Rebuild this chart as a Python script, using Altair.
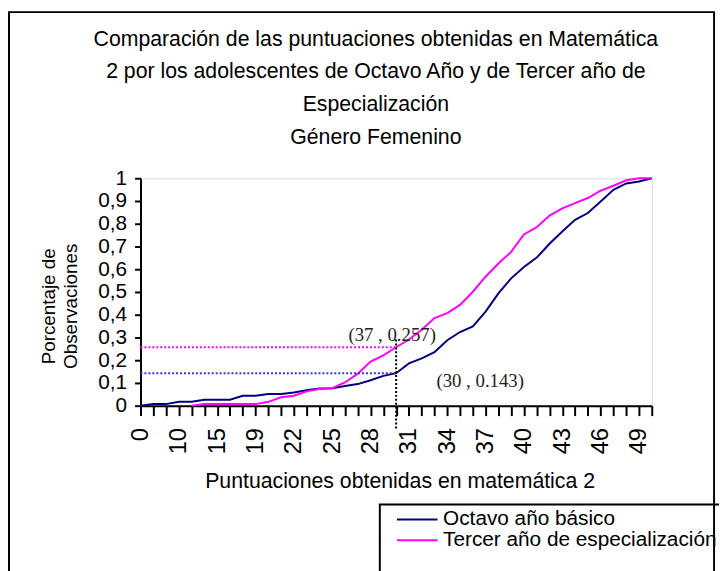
import altair as alt
import pandas as pd

categories = ["0", "5", "8", "10", "12", "14", "15", "17", "18", "19", "20",
              "21", "22", "23", "24", "25", "26", "27", "28", "29", "30",
              "31", "32", "33", "34", "35", "36", "37", "38", "39", "40",
              "41", "42", "43", "44", "45", "46", "47", "48", "49", "50"]
label_values = ["0", "10", "15", "19", "22", "25", "28", "31", "34", "37",
                "40", "43", "46", "49"]
y_ticks = [0, 0.1, 0.2, 0.3, 0.4, 0.5, 0.6, 0.7, 0.8, 0.9, 1.0]

octavo = [0.0, 0.007, 0.007, 0.017, 0.017, 0.026, 0.026, 0.026, 0.044, 0.044,
          0.051, 0.051, 0.058, 0.068, 0.076, 0.077, 0.087, 0.095, 0.112, 0.131,
          0.143, 0.186, 0.208, 0.235, 0.288, 0.324, 0.349, 0.414, 0.494, 0.560,
          0.610, 0.651, 0.712, 0.766, 0.817, 0.847, 0.898, 0.949, 0.977, 0.986,
          1.0]
tercer = [None, None, None, None, 0.0, 0.007, 0.007, 0.007, 0.007, 0.007,
          0.017, 0.037, 0.044, 0.063, 0.073, 0.077, 0.102, 0.141, 0.194, 0.221,
          0.257, 0.291, 0.334, 0.385, 0.407, 0.443, 0.501, 0.567, 0.625, 0.676,
          0.753, 0.785, 0.836, 0.868, 0.891, 0.913, 0.945, 0.967, 0.991, 1.0,
          1.0]

series_names = ["Octavo año básico", "Tercer año de especialización"]
series_colors = ["#000080", "#FF00FF"]

title_lines = ["Comparación de las puntuaciones obtenidas en Matemática",
               "2 por los adolescentes de Octavo Año y de Tercer año de",
               "Especialización",
               "Género Femenino"]
x_title = "Puntuaciones obtenidas en matemática 2"
y_title = ["Porcentaje de", "Observaciones"]

ref_x = "30"
ref_pink = 0.257
ref_blue = 0.143
annot_texts = ["(37 , 0.257)", "(30 , 0.143)"]
annot_y = [0.309, 0.1066]

SANS = "Liberation Sans"
SERIF = "Liberation Serif"
W, H = 517, 230

rows = []
for c, a, b in zip(categories, octavo, tercer):
    rows.append({"x": c, "y": a, "serie": series_names[0]})
    rows.append({"x": c, "y": b, "serie": series_names[1]})
df = pd.DataFrame(rows)

xscale = alt.Scale(type="point", domain=categories, padding=0)
yscale = alt.Scale(domain=[0, 1], nice=False)
label_js = "[" + ",".join("'" + v + "'" for v in label_values) + "]"

x_axis = alt.Axis(
    title=x_title, titleFont=SANS, titleFontSize=21.5, titleFontWeight="normal",
    titleColor="black", titleX=262, titleY=83, titleAlign="center",
    titleBaseline="alphabetic",
    labelAngle=270, labelFont=SANS, labelFontSize=24, labelColor="black",
    labelExpr="indexof(" + label_js + ", datum.value) >= 0 ? datum.value : ''",
    labelOverlap=False, labelPadding=12,
    tickSize=10, tickWidth=2, tickColor="black",
    domainColor="black", domainWidth=2, grid=False,
)
y_axis = alt.Axis(
    values=y_ticks,
    labelExpr="replace(format(datum.value, '.1~f'), '.', ',')",
    labelFont=SANS, labelFontSize=21, labelColor="black", labelPadding=8,
    labelOverlap=False, labelSeparation=0,
    tickSize=6, tickWidth=2, tickColor="black",
    domainColor="black", domainWidth=2, grid=False,
    title=y_title, titleFont=SANS, titleFontSize=19, titleFontWeight="normal",
    titleColor="black", titleAngle=270, titleLineHeight=22,
    titleX=-93, titleY=129, titleAlign="center", titleBaseline="middle",
)


def X(field):
    return alt.X(field, type="ordinal", scale=xscale, axis=x_axis,
                 sort=categories)


def Y(field):
    return alt.Y(field, type="quantitative", scale=yscale, axis=y_axis)


lines = alt.Chart(df).mark_line(strokeWidth=2).encode(
    x=X("x"),
    y=Y("y"),
    color=alt.Color(
        "serie:N",
        scale=alt.Scale(domain=series_names, range=series_colors),
        legend=alt.Legend(
            orient="none", legendX=254, legendY=334.5, title=None,
            symbolType="M-1,0H7", symbolSize=105, symbolStrokeWidth=2,
            symbolOffset=0, labelOffset=31, labelFont=SANS, labelFontSize=21,
            labelColor="black", labelLimit=0, padding=0, rowPadding=-2,
        ),
    ),
)

ref_df = pd.DataFrame({"x": [categories[0]], "x2": [ref_x],
                       "yp": [ref_pink], "yb": [ref_blue]})
pink_rule = alt.Chart(ref_df).mark_rule(
    color="#FF00FF", strokeDash=[2, 2], strokeWidth=2).encode(
    x=X("x"), x2="x2", y=Y("yp"))
blue_rule = alt.Chart(ref_df).mark_rule(
    color="#3030F0", strokeDash=[2, 2], strokeWidth=2).encode(
    x=X("x"), x2="x2", y=Y("yb"))
vert_df = pd.DataFrame({"x": [ref_x], "y": [0.291]})
vert_rule = alt.Chart(vert_df).mark_rule(
    color="black", strokeDash=[2, 2], strokeWidth=2).encode(
    x=X("x"), y=Y("y"), y2=alt.value(H + 23))

annot_df = pd.DataFrame({"x": [ref_x, ref_x], "y": annot_y, "t": annot_texts})
annot1 = alt.Chart(annot_df.iloc[[0]]).mark_text(
    font=SERIF, fontSize=19, color="#222222", dx=-4).encode(
    x=X("x"), y=Y("y"), text="t:N")
annot2 = alt.Chart(annot_df.iloc[[1]]).mark_text(
    font=SERIF, fontSize=19, color="#222222", dx=85).encode(
    x=X("x"), y=Y("y"), text="t:N")

title_df = pd.DataFrame({"t": ["\n".join(title_lines)]})
title_mark = alt.Chart(title_df).mark_text(
    font=SANS, fontSize=21.5, color="black", lineBreak="\n", lineHeight=33,
    align="center", baseline="alphabetic").encode(
    text="t:N", x=alt.value(238), y=alt.value(-134))

box_df = pd.DataFrame({"k": [0]})
frame = alt.Chart(box_df).mark_rect(
    fill=None, stroke="black", strokeWidth=2).encode(
    x=alt.value(-133), x2=alt.value(580), y=alt.value(-168), y2=alt.value(600))
legend_box = alt.Chart(box_df).mark_rect(
    fill=None, stroke="black", strokeWidth=2).encode(
    x=alt.value(242), x2=alt.value(700), y=alt.value(330), y2=alt.value(600))

chart = alt.layer(
    lines, pink_rule, blue_rule, vert_rule, annot1, annot2,
    frame, legend_box, title_mark
).properties(
    width=W, height=H,
    autosize=alt.AutoSizeParams(type="none"),
    padding={"left": 134, "top": 169, "right": 68, "bottom": 164},
).configure_view(
    stroke="black", strokeWidth=2
).configure_axisY(
    labelOverlap=False
).configure(background="white")

chart.save("out.html", embed_options={"renderer": "svg", "actions": False})
